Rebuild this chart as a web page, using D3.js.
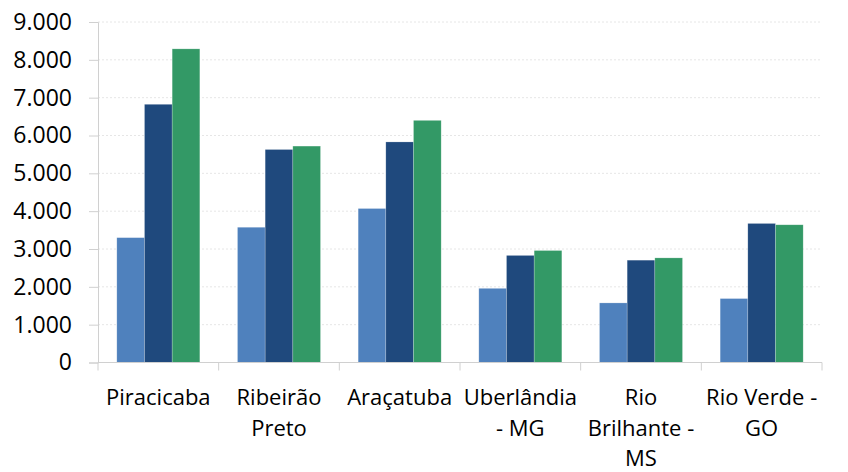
<!DOCTYPE html>
<html>
<head>
<meta charset="utf-8">
<script src="https://cdn.jsdelivr.net/npm/d3@7"></script>
<style>
  html, body { margin: 0; padding: 0; background: #fff; }
  svg { display: block; }
  text { font-family: "Open Sans", Lato, sans-serif; fill: #000; }
</style>
</head>
<body>
<svg id="chart" width="848" height="472"></svg>
<script>
const categories = ["Piracicaba", "Ribeirão Preto", "Araçatuba", "Uberlândia - MG", "Rio Brilhante - MS", "Rio Verde - GO"];
const categoryLines = [["Piracicaba"], ["Ribeirão", "Preto"], ["Araçatuba"], ["Uberlândia", "- MG"], ["Rio", "Brilhante -", "MS"], ["Rio Verde -", "GO"]];
const seriesNames = ["Série 1", "Série 2", "Série 3"];
const series1 = [3300, 3575, 4070, 1960, 1575, 1690];
const series2 = [6825, 5630, 5830, 2830, 2705, 3675];
const series3 = [8290, 5720, 6400, 2960, 2765, 3640];
const colors = ["#4F81BD", "#1F497D", "#339966"];
const yTicks = [0, 1000, 2000, 3000, 4000, 5000, 6000, 7000, 8000, 9000];

const seriesValues = [series1, series2, series3];
const data = categories.map((c, i) => ({ cat: c, lines: categoryLines[i], values: seriesValues.map((s, j) => ({ key: seriesNames[j], value: s[i], color: colors[j] })) }));

const svg = d3.select("#chart");
const mLeft = 98, mRight = 822, mTop = 22, mBottom = 362.5;

const x0 = d3.scaleBand().domain(categories).range([mLeft, mRight]).paddingInner(0).paddingOuter(0);
const bw = x0.bandwidth();
const gap = bw * 0.312;
const x1 = d3.scaleBand().domain(seriesNames).range([gap / 2, bw - gap / 2]).padding(0);
const y = d3.scaleLinear().domain([0, 9000]).range([mBottom, mTop]);

const fmt = v => d3.format(",")(v).replace(/,/g, ".");

// gridlines
svg.append("g").selectAll("line").data(yTicks.filter(t => t > 0)).join("line")
  .attr("x1", mLeft).attr("x2", mRight)
  .attr("y1", d => y(d)).attr("y2", d => y(d))
  .attr("stroke", "#e6e6e6").attr("stroke-width", 1).attr("stroke-dasharray", "2,2");

// bars
const g = svg.append("g").selectAll("g").data(data).join("g")
  .attr("transform", d => `translate(${x0(d.cat)},0)`);
g.selectAll("rect").data(d => d.values).join("rect")
  .attr("x", d => x1(d.key))
  .attr("width", x1.bandwidth())
  .attr("y", d => y(d.value))
  .attr("height", d => y(0) - y(d.value))
  .attr("fill", d => d.color)
  .attr("stroke", "rgba(255,255,255,0.35)").attr("stroke-width", 0.6);

// y axis
const yAxis = d3.axisLeft(y).tickValues(yTicks).tickFormat(fmt).tickSize(9).tickPadding(17);
const ya = svg.append("g").attr("transform", `translate(${mLeft},0)`).call(yAxis);
ya.select(".domain").attr("stroke", "#d0d0d0");
ya.selectAll(".tick line").attr("stroke", "#d0d0d0");
ya.selectAll(".tick text").attr("font-size", 23).attr("font-family", "'Open Sans', sans-serif").attr("fill", "#000");

// x axis baseline and ticks at category boundaries
const boundaries = categories.map(c => x0(c)).concat([mRight]);
svg.append("line").attr("x1", mLeft).attr("x2", mRight).attr("y1", y(0)).attr("y2", y(0)).attr("stroke", "#d0d0d0");
svg.append("g").selectAll("line").data(boundaries).join("line")
  .attr("x1", d => d).attr("x2", d => d)
  .attr("y1", y(0)).attr("y2", y(0) + 8)
  .attr("stroke", "#d0d0d0");

// category labels
const lab = svg.append("g").selectAll("text").data(data).join("text")
  .attr("text-anchor", "middle")
  .attr("font-size", 22)
  .attr("x", d => x0(d.cat) + bw / 2)
  .attr("y", 405);
lab.selectAll("tspan").data(d => d.lines).join("tspan")
  .attr("x", function() { return d3.select(this.parentNode).attr("x"); })
  .attr("dy", (d, i) => i === 0 ? 0 : 30.5)
  .text(d => d);
</script>
</body>
</html>
